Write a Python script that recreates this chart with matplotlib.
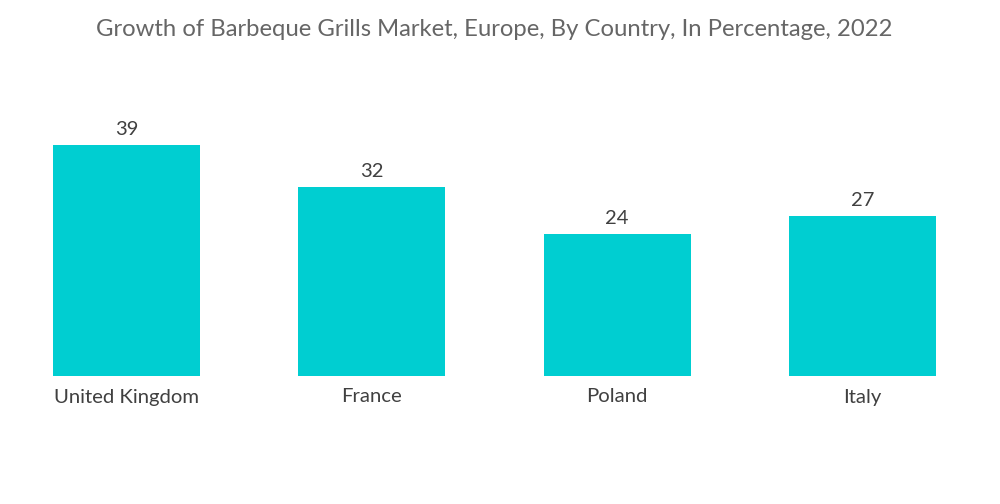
import matplotlib
matplotlib.use("Agg")
import matplotlib.pyplot as plt

categories = ["United Kingdom", "France", "Poland", "Italy"]
values = [39, 32, 24, 27]
title = "Growth of Barbeque Grills Market, Europe, By Country, In Percentage, 2022"

plt.rcParams['font.family'] = ['Lato', 'DejaVu Sans']

fig = plt.figure(figsize=(10, 5.04), dpi=100)
ax = fig.add_axes([0.004, 1 - 376/504, 0.981, 266/504])
x = range(len(categories))
bars = ax.bar(x, values, width=0.6, color="#00CED1")
ax.set_xlim(-0.5, 3.5)
ax.set_ylim(0, 45)
for xi, v in zip(x, values):
    ax.text(xi, v + 1.2, str(v), ha="center", va="bottom", fontsize=14.5, color="#404040")
ax.set_xticks(list(x))
ax.set_xticklabels(categories, fontsize=14.6, color="#404040")
ax.tick_params(axis="x", length=0, pad=9)
ax.set_yticks([])
for s in ax.spines.values():
    s.set_visible(False)
fig.text(0.494, 1 - 30/504, title, ha="center", va="center", fontsize=17.2, color="#666666")
fig.savefig("out.png", dpi=100)
